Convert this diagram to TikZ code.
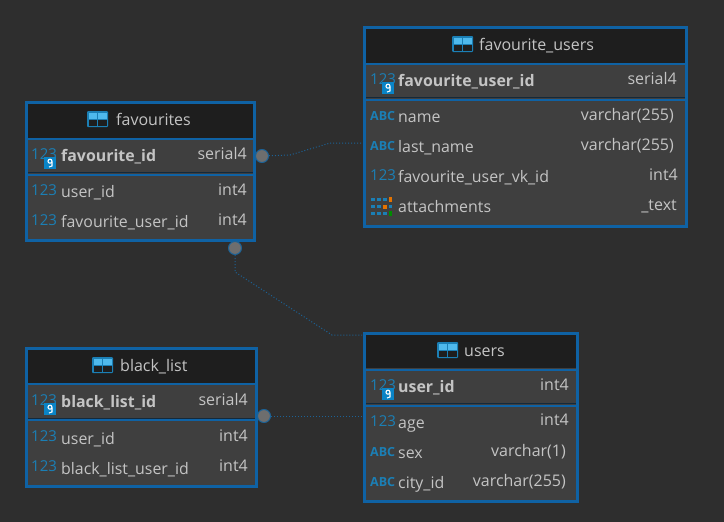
\documentclass[tikz,border=0pt]{standalone}
\usepackage{fontspec}
\setmainfont{Open Sans}
\usetikzlibrary{positioning}

\definecolor{canvascol}{HTML}{2E2E2E}
\definecolor{headcol}{HTML}{1E1E1E}
\definecolor{rowcol}{HTML}{3F3F3F}
\definecolor{framecol}{HTML}{0F62A4}
\definecolor{sepcol}{HTML}{14293A}
\definecolor{textcol}{HTML}{C4C4C4}
\definecolor{iconcol}{HTML}{1B7FB5}
\definecolor{lightcol}{HTML}{4FB9EC}
\definecolor{badgecol}{HTML}{0A84C6}
\definecolor{dotcol}{HTML}{6E6E6E}
\definecolor{fkcol}{HTML}{1C6296}

\tikzset{
    tablebox/.style={draw=framecol, line width=3pt, fill=rowcol, anchor=north west, inner sep=0pt, outer sep=0pt},
    headbox/.style={fill=headcol, anchor=north west, inner sep=0pt, outer sep=0pt},
    titletext/.style={anchor=base west, inner sep=0pt, text=textcol, font=\fontsize{16}{18}\selectfont},
    pktext/.style={anchor=base west, inner sep=0pt, text=textcol, font=\fontsize{15.9}{18}\selectfont\bfseries},
    coltext/.style={anchor=base west, inner sep=0pt, text=textcol, font=\fontsize{15.9}{18}\selectfont},
    typetext/.style={anchor=base east, inner sep=0pt, text=textcol, font=\fontsize{16}{18}\selectfont},
    numicon/.style={anchor=base west, inner sep=0pt, text=iconcol, font=\fontsize{15}{18}\selectfont},
    abcicon/.style={anchor=base west, inner sep=0pt, text=iconcol, font=\fontsize{12.5}{14}\selectfont\bfseries},
    framesep/.style={draw=framecol, line width=2pt},
    darksep/.style={draw=sepcol, line width=1pt},
    enddot/.style={circle, fill=dotcol, draw=fkcol, line width=1pt, minimum size=13pt, inner sep=0pt},
    fkline/.style={draw=fkcol, line width=1pt, dotted},
    tableicon/.pic={
        \fill[rounded corners=1pt, fill=iconcol] (0, 0) rectangle (21, 16);
        \fill[lightcol] (1.5, 1.5) rectangle (10, 7.5);
        \fill[lightcol] (11, 1.5) rectangle (19.5, 7.5);
        \fill[headcol] (1.5, 9) rectangle (10, 14.5);
        \fill[headcol] (11, 9) rectangle (19.5, 14.5);
    },
    keybadge/.pic={
        \fill[badgecol] (0, 0) rectangle (12, 12);
        \draw[white, line width=1.1pt] (6, 4.2) circle (2pt);
        \draw[white, line width=1.1pt] (8, 4.5) -- (8, 9) -- (5, 10);
    },
    arrayicon/.pic={
        \fill[iconcol] (0, 1) rectangle (4, 4);
        \fill[iconcol] (6, 1) rectangle (10, 4);
        \fill[iconcol] (12, 1) rectangle (16, 4);
        \fill[orange!90!black] (18, 0) rectangle (21, 5);
        \fill[iconcol] (0, 8) rectangle (4, 11);
        \fill[iconcol] (6, 8) rectangle (10, 11);
        \fill[orange!90!black] (12, 7.5) rectangle (16, 11.5);
        \fill[iconcol] (18, 8) rectangle (21, 11);
        \fill[iconcol] (0, 15) rectangle (4, 18);
        \fill[iconcol] (6, 15) rectangle (10, 18);
        \fill[iconcol] (12, 15) rectangle (16, 18);
        \fill[green!55!black] (18, 14) rectangle (21, 19);
    },
}

\begin{document}
\begin{tikzpicture}[x=1pt, y=-1pt]

    \fill[canvascol] (0, 0) rectangle (724, 522);
    \useasboundingbox (0, 0) rectangle (724, 522);

    % favourites
    \node[tablebox, minimum width=228pt, minimum height=138pt] (favourites) at (26.5, 102.5) {};
    \node[headbox, minimum width=225pt, minimum height=34pt] (favourites_head) at (28, 104) {};
    \draw[framesep] (28, 138.5) -- (253, 138.5);
    \draw[darksep] (28, 172.5) -- (253, 172.5);
    \draw[framesep] (28, 174.5) -- (253, 174.5);
    \pic at (87, 111) {tableicon};
    \node[titletext] (favourites_title) at (116, 125.7) {favourites};
    \node[numicon] (favourite_id_icon) at (31, 159) {123};
    \pic at (44, 157) {keybadge};
    \node[pktext] (favourite_id) at (61, 161.7) {favourite\_id};
    \node[typetext] (favourite_id_type) at (247, 159) {serial4};
    \node[numicon] (user_id_icon) at (31, 195.5) {123};
    \node[coltext] (user_id) at (61, 197.7) {user\_id};
    \node[typetext] (user_id_type) at (247, 195.3) {int4};
    \node[numicon] (favourite_user_id_icon) at (31, 225.5) {123};
    \node[coltext] (favourite_user_id) at (61, 227.7) {favourite\_user\_id};
    \node[typetext] (favourite_user_id_type) at (247, 225) {int4};

    % favourite_users
    \node[tablebox, minimum width=322pt, minimum height=199pt] (favourite_users) at (364.5, 27.5) {};
    \node[headbox, minimum width=319pt, minimum height=34pt] (favourite_users_head) at (366, 29) {};
    \draw[framesep] (366, 63.5) -- (685, 63.5);
    \draw[darksep] (366, 97.5) -- (685, 97.5);
    \draw[framesep] (366, 99.5) -- (685, 99.5);
    \pic at (452, 36) {tableicon};
    \node[titletext] (favourite_users_title) at (479, 50.7) {favourite\_users};
    \node[numicon] (fu_id_icon) at (370, 84) {123};
    \pic at (382, 82) {keybadge};
    \node[pktext] (fu_id) at (398, 86.7) {favourite\_user\_id};
    \node[typetext] (fu_id_type) at (677, 84) {serial4};
    \node[abcicon] (name_icon) at (370, 120.5) {ABC};
    \node[coltext] (name) at (398, 122.7) {name};
    \node[typetext] (name_type) at (674, 120) {varchar(255)};
    \node[abcicon] (last_name_icon) at (370, 150.5) {ABC};
    \node[coltext] (last_name) at (398, 152.7) {last\_name};
    \node[typetext] (last_name_type) at (674, 150) {varchar(255)};
    \node[numicon] (vk_id_icon) at (370, 180.5) {123};
    \node[coltext] (vk_id) at (398, 182.7) {favourite\_user\_vk\_id};
    \node[typetext] (vk_id_type) at (678, 180) {int4};
    \pic at (371, 197) {arrayicon};
    \node[coltext] (attachments) at (398, 212.7) {attachments};
    \node[typetext] (attachments_type) at (677, 210) {\_text};

    % black_list
    \node[tablebox, minimum width=230pt, minimum height=138pt] (black_list) at (26.5, 348.5) {};
    \node[headbox, minimum width=227pt, minimum height=33pt] (black_list_head) at (28, 350) {};
    \draw[framesep] (28, 384) -- (255, 384);
    \draw[darksep] (28, 418) -- (255, 418);
    \draw[framesep] (28, 420) -- (255, 420);
    \pic at (92, 357) {tableicon};
    \node[titletext] (black_list_title) at (120, 371.7) {black\_list};
    \node[numicon] (black_list_id_icon) at (31, 405) {123};
    \pic at (44, 403) {keybadge};
    \node[pktext] (black_list_id) at (61, 407.7) {black\_list\_id};
    \node[typetext] (black_list_id_type) at (248, 405) {serial4};
    \node[numicon] (bl_user_id_icon) at (31, 441.5) {123};
    \node[coltext] (bl_user_id) at (61, 444) {user\_id};
    \node[typetext] (bl_user_id_type) at (248, 441) {int4};
    \node[numicon] (bl_list_user_id_icon) at (31, 471.5) {123};
    \node[coltext] (bl_list_user_id) at (61, 474) {black\_list\_user\_id};
    \node[typetext] (bl_list_user_id_type) at (248, 471) {int4};

    % users
    \node[tablebox, minimum width=213pt, minimum height=168pt] (users) at (364.5, 333.5) {};
    \node[headbox, minimum width=210pt, minimum height=33pt] (users_head) at (366, 335) {};
    \draw[framesep] (366, 369.5) -- (576, 369.5);
    \draw[darksep] (366, 403.5) -- (576, 403.5);
    \draw[framesep] (366, 405.5) -- (576, 405.5);
    \pic at (437, 342) {tableicon};
    \node[titletext] (users_title) at (464, 356.7) {users};
    \node[numicon] (uid_icon) at (370, 390) {123};
    \pic at (382, 388) {keybadge};
    \node[pktext] (uid) at (398, 392.7) {user\_id};
    \node[typetext] (uid_type) at (569, 390) {int4};
    \node[numicon] (age_icon) at (370, 426) {123};
    \node[coltext] (age) at (398, 428) {age};
    \node[typetext] (age_type) at (569, 425.7) {int4};
    \node[abcicon] (sex_icon) at (370, 456) {ABC};
    \node[coltext] (sex) at (398, 458) {sex};
    \node[typetext] (sex_type) at (566, 456) {varchar(1)};
    \node[abcicon] (city_id_icon) at (370, 486) {ABC};
    \node[coltext] (city_id) at (398, 488) {city\_id};
    \node[typetext] (city_id_type) at (566, 486) {varchar(255)};

    % links
    \node[enddot] (favourites_dot) at (262, 156) {};
    \node[enddot] (favourites_low_dot) at (235, 248) {};
    \node[enddot] (black_list_dot) at (264, 416) {};
    \coordinate (fu_bend_a) at (290, 155);
    \coordinate (fu_bend_b) at (330, 143);
    \coordinate (fu_end) at (362, 143);
    \coordinate (u_bend_a) at (235, 272);
    \coordinate (u_bend_b) at (332, 335);
    \coordinate (u_end) at (362, 335);
    \coordinate (bl_end) at (362, 416);
    \draw[fkline] (favourites_dot) -- (fu_bend_a) -- (fu_bend_b) -- (fu_end);
    \draw[fkline] (favourites_low_dot) -- (u_bend_a) -- (u_bend_b) -- (u_end);
    \draw[fkline] (black_list_dot) -- (bl_end);

\end{tikzpicture}
\end{document}
